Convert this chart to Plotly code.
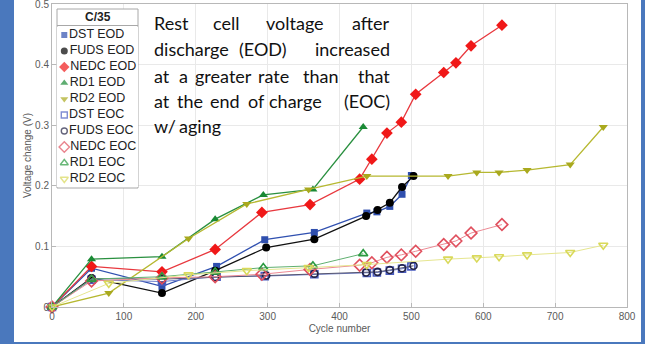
import plotly.graph_objects as go

# ---------------- data ----------------
dst_eod_x = [0, 55, 153, 229, 296, 365, 438, 452, 470, 487, 500]
dst_eod_y = [0, 0.064, 0.034, 0.067, 0.111, 0.123, 0.155, 0.157, 0.166, 0.186, 0.217]
fuds_eod_x = [0, 55, 153, 227, 298, 365, 437, 453, 470, 487, 503]
fuds_eod_y = [0, 0.048, 0.023, 0.060, 0.098, 0.112, 0.150, 0.160, 0.172, 0.198, 0.216]
nedc_eod_x = [0, 55, 153, 227, 292, 359, 428, 445, 466, 486, 506, 545, 562, 583, 626]
nedc_eod_y = [0, 0.067, 0.058, 0.095, 0.156, 0.169, 0.211, 0.244, 0.287, 0.305, 0.351, 0.387, 0.403, 0.431, 0.465]
rd1_eod_x = [0, 55, 153, 227, 294, 363, 433]
rd1_eod_y = [0, 0.079, 0.083, 0.145, 0.185, 0.194, 0.297]
rd2_eod_x = [0, 79, 190, 271, 357, 438, 551, 591, 622, 661, 721, 767]
rd2_eod_y = [0, 0.023, 0.113, 0.170, 0.194, 0.216, 0.216, 0.222, 0.222, 0.226, 0.235, 0.297]

dst_eoc_x = dst_eod_x
dst_eoc_y = [0, 0.045, 0.042, 0.050, 0.051, 0.054, 0.056, 0.057, 0.060, 0.063, 0.067]
fuds_eoc_x = fuds_eod_x
fuds_eoc_y = [0, 0.047, 0.046, 0.049, 0.052, 0.055, 0.057, 0.058, 0.061, 0.064, 0.068]
nedc_eoc_x = nedc_eod_x
nedc_eoc_y = [0, 0.043, 0.048, 0.050, 0.054, 0.062, 0.069, 0.073, 0.082, 0.086, 0.092, 0.103, 0.109, 0.122, 0.136]
rd1_eoc_x = rd1_eod_x
rd1_eoc_y = [0, 0.046, 0.050, 0.058, 0.065, 0.068, 0.088]
rd2_eoc_x = rd2_eod_x
rd2_eoc_y = [0, 0.039, 0.053, 0.060, 0.065, 0.070, 0.079, 0.081, 0.083, 0.086, 0.090, 0.102]

series_names = ["DST EOD", "FUDS EOD", "NEDC EOD", "RD1 EOD", "RD2 EOD",
                "DST EOC", "FUDS EOC", "NEDC EOC", "RD1 EOC", "RD2 EOC"]
series_x = [dst_eod_x, fuds_eod_x, nedc_eod_x, rd1_eod_x, rd2_eod_x,
            dst_eoc_x, fuds_eoc_x, nedc_eoc_x, rd1_eoc_x, rd2_eoc_x]
series_y = [dst_eod_y, fuds_eod_y, nedc_eod_y, rd1_eod_y, rd2_eod_y,
            dst_eoc_y, fuds_eoc_y, nedc_eoc_y, rd1_eoc_y, rd2_eoc_y]

x_ticks = [0, 100, 200, 300, 400, 500, 600, 700, 800]
y_ticks = [0, 0.1, 0.2, 0.3, 0.4, 0.5]

legend_title = "C/35"
note_lines = [["Rest", "cell", "voltage", "after"],
              ["discharge", "(EOD)", "increased"],
              ["at", "a", "greater", "rate", "than", "that"],
              ["at", "the", "end", "of", "charge", "(EOC)"],
              ["w/", "aging"]]

# ---------------- styles ----------------
symbols = ["square", "circle", "diamond", "triangle-up", "triangle-down",
           "square-open", "circle-open", "diamond-open", "triangle-up-open", "triangle-down-open"]
marker_colors = ["#2f4fae", "#000000", "#f01818", "#1a8a35", "#a9a91e",
                 "#4a5cc0", "#222244", "#e0505e", "#2a9a40", "#d9d95a"]
line_colors = ["#3050b0", "#111111", "#e8383e", "#2a9040", "#b6b830",
               "#7080cc", "#555570", "#ec8a94", "#60b070", "#e6e690"]
marker_sizes = [7, 8, 9, 8, 8, 7, 7, 9, 8, 8]
line_widths = [1.3, 1.3, 1.3, 1.3, 1.3, 1.0, 1.0, 1.0, 1.0, 1.0]

W, H = 645, 344
ML, MR, MT, MB = 52, 18, 4, 37
PW = W - ML - MR
PH = H - MT - MB
XR = [0, 800]
YR = [0, 0.5]


def fx(p):
    return (p - ML) / PW


def fy(p):
    return (H - MB - p) / PH


def dx(p):
    return XR[0] + fx(p) * (XR[1] - XR[0])


def dy(p):
    return YR[0] + fy(p) * (YR[1] - YR[0])


fig = go.Figure()

for i, name in enumerate(series_names):
    open_m = symbols[i].endswith("open")
    fig.add_trace(go.Scatter(
        x=series_x[i], y=series_y[i], mode="lines+markers", name=name,
        showlegend=False,
        line=dict(color=line_colors[i], width=line_widths[i]),
        marker=dict(symbol=symbols[i], size=marker_sizes[i], color=marker_colors[i],
                    line=dict(width=1.6 if open_m else 0, color=marker_colors[i])),
        cliponaxis=False,
    ))

# custom legend drawn on its own small subplot
leg_x0, leg_x1, leg_top, leg_bot = 57, 138, 9, 188
ent_top, ent_bot = 27, 187
fig.add_trace(go.Scatter(
    x=[0.09] * len(series_names), y=list(range(len(series_names))),
    mode="markers+text", text=series_names, textposition="middle right",
    textfont=dict(family="Liberation Sans, Arial, sans-serif", size=12.5, color="#222222"),
    marker=dict(symbol=symbols, size=[s - 1 for s in marker_sizes], color=marker_colors,
                line=dict(width=[1.4 if s.endswith("open") else 0 for s in symbols],
                          color=marker_colors)),
    xaxis="x2", yaxis="y2", showlegend=False, cliponaxis=False, hoverinfo="skip",
))

shapes = [
    # white slide card
    dict(type="rect", xref="paper", yref="paper", x0=fx(14), x1=fx(641), y0=fy(342), y1=fy(-5),
         fillcolor="white", line=dict(width=0), layer="below"),
    # legend box
    dict(type="rect", xref="x", yref="y", x0=dx(leg_x0), x1=dx(leg_x1),
         y0=dy(leg_bot), y1=dy(leg_top), fillcolor="white",
         line=dict(color="#a8a8a8", width=1), layer="between"),
    dict(type="line", xref="x", yref="y", x0=dx(leg_x0), x1=dx(leg_x1),
         y0=dy(25.5), y1=dy(25.5), line=dict(color="#a8a8a8", width=1), layer="between"),
]

annotations = [
    dict(text="<b>" + legend_title + "</b>", xref="paper", yref="paper",
         x=fx((leg_x0 + leg_x1) / 2), y=fy(17), xanchor="center", yanchor="middle",
         showarrow=False, font=dict(family="Liberation Sans, Arial, sans-serif", size=12, color="#222222")),
]

# justified note text: word left edges per line (layout positions)
word_left = [[152.7, 211.7, 265, None],
             [152.7, 237.7, None],
             [152.7, 178.3, 194.3, 257.3, 301.7, None],
             [152.7, 176, 209.3, 246.7, 267.7, None],
             [152.7, 178]]
line_centers = [23, 49, 76, 101, 126]
right_edge = 390.7
note_font = dict(family="Lato, Open Sans, sans-serif", size=18, color="#111111")
for li, words in enumerate(note_lines):
    for wi, w in enumerate(words):
        pos = word_left[li][wi]
        if pos is None:
            xx, anc = right_edge, "right"
        else:
            xx, anc = pos, "left"
        annotations.append(dict(text=w, xref="paper", yref="paper", x=fx(xx), y=fy(line_centers[li]),
                                xanchor=anc, yanchor="middle", showarrow=False, font=note_font,
                                borderpad=0))

tick_font = dict(family="Liberation Sans, Arial, sans-serif", size=10, color="#5a5a5a")
fig.update_layout(
    width=W, height=H,
    margin=dict(l=ML, r=MR, t=MT, b=MB, autoexpand=False),
    paper_bgcolor="#4a78bd",
    plot_bgcolor="white",
    shapes=shapes,
    annotations=annotations,
    xaxis=dict(range=XR, tickvals=x_ticks, ticktext=[str(v) for v in x_ticks],
               showgrid=True, gridcolor="#e9e9e9", gridwidth=1, zeroline=False,
               showline=True, linecolor="#b8b8b8", linewidth=1, mirror=True,
               ticks="inside", ticklen=4, tickcolor="#b8b8b8", tickfont=tick_font,
               ticklabeloverflow="allow",
               title=dict(text="Cycle number", font=tick_font, standoff=3)),
    yaxis=dict(range=YR, tickvals=y_ticks, ticktext=[("%g" % v) for v in y_ticks],
               showgrid=True, gridcolor="#e9e9e9", gridwidth=1, zeroline=False,
               showline=True, linecolor="#b8b8b8", linewidth=1, mirror=True,
               ticks="inside", ticklen=4, tickcolor="#b8b8b8", tickfont=tick_font,
               ticklabeloverflow="allow",
               title=dict(text="Voltage change (V)", font=tick_font, standoff=1)),
    xaxis2=dict(domain=[fx(leg_x0), fx(leg_x1)], range=[0, 1], anchor="y2", visible=False,
                fixedrange=True),
    yaxis2=dict(domain=[fy(ent_bot), fy(ent_top)], range=[len(series_names) - 0.5, -0.5],
                anchor="x2", visible=False, fixedrange=True),
    showlegend=False,
)

fig.write_html("out.html")
